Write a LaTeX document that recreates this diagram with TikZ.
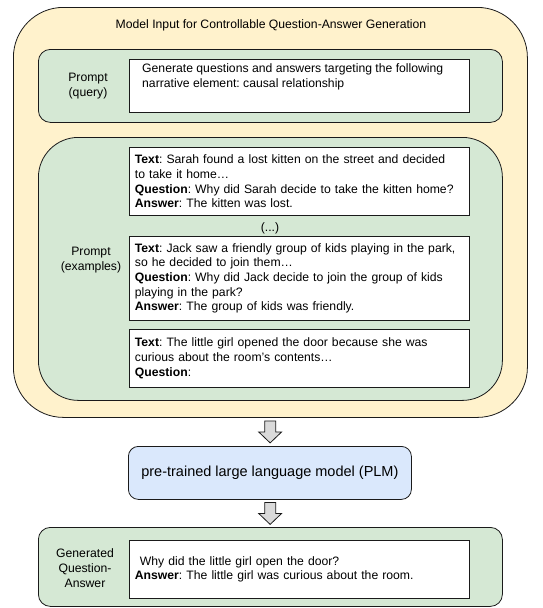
\documentclass[tikz,border=0pt]{standalone}
\usepackage{fontspec}
\setmainfont{Liberation Sans}
\usetikzlibrary{calc}
\definecolor{ylw}{HTML}{FFF2CC}
\definecolor{grn}{HTML}{D5E8D4}
\definecolor{blu}{HTML}{DAE8FC}
\definecolor{arrfill}{HTML}{DADADA}
\definecolor{edge}{HTML}{1A1A1A}
\tikzset{
  base/.style={draw=edge, line width=0.8pt, anchor=north west, inner sep=0pt},
  outerbox/.style={base, fill=ylw, rounded corners=50pt},
  greenbox/.style={base, fill=grn, rounded corners=12pt, minimum width=464pt},
  bigbox/.style={base, fill=grn, rounded corners=40pt, minimum width=464pt},
  whitebox/.style={base, fill=white, minimum width=340pt, text width=329pt, align=left, inner xsep=5.5pt},
  plmbox/.style={base, fill=blu, rounded corners=10pt},
  lbl/.style={align=center, inner sep=0pt},
  blockarrow/.style={draw=edge, line width=0.8pt, fill=arrfill, line join=miter}
}
\begin{document}
\frenchspacing
\begin{tikzpicture}[x=1pt, y=-1pt, font=\fontsize{12.2}{14.7}\selectfont]
\useasboundingbox (0,0) rectangle (542,608);

% outer input box
\node[outerbox, minimum width=514pt, minimum height=410pt] (outer) at (13,7) {};
\node[lbl] (title) at (271,25) {Model Input for Controllable Question-Answer Generation};

% prompt (query)
\node[greenbox, minimum height=73pt] (qgreen) at (38,49) {};
\node[lbl] (qlabel) at (88,86) {Prompt\\(query)};
\node[base, fill=white, minimum width=340pt, minimum height=53pt] (qbox) at (129,59) {};
\node[anchor=north west, inner sep=0pt, align=left] (qtext) at (142,63.5)
  {Generate questions and answers targeting the following\\narrative element: causal relationship};

% prompt (examples)
\node[bigbox, minimum height=263pt] (egreen) at (38,137) {};
\node[lbl] (elabel) at (91,260) {Prompt\\(examples)};
\node[whitebox, minimum height=68pt] (ex1) at (129,147)
  {\textbf{Text}: Sarah found a lost kitten on the street and decided\\
   to take it home…\\
   \textbf{Question}: Why did Sarah decide to take the kitten home?\\
   \textbf{Answer}: The kitten was lost.};
\node[lbl] (dots) at (270,228) {(...)};
\node[whitebox, minimum height=84pt] (ex2) at (129,236)
  {\textbf{Text}: Jack saw a friendly group of kids playing in the park,\\
   so he decided to join them…\\
   \textbf{Question}: Why did Jack decide to join the group of kids\\
   playing in the park?\\
   \textbf{Answer}: The group of kids was friendly.};
\node[whitebox, minimum height=58pt] (ex3) at (129,329)
  {\textbf{Text}: The little girl opened the door because she was\\
   curious about the room’s contents…\\
   \textbf{Question}:};

% PLM
\node[plmbox, minimum width=283pt, minimum height=53pt] (plm) at (128,446) {};
\node[lbl, font=\fontsize{14.5}{17}\selectfont] (plmtext) at (plm.center) {pre-trained large language model (PLM)};

% generated output
\node[greenbox, minimum height=79pt] (ogreen) at (38,527) {};
\node[lbl] (olabel) at (85,568) {Generated\\Question-\\Answer};
\node[whitebox, minimum height=58pt] (obox) at (129,540)
  {\hspace{5pt}Why did the little girl open the door?\\
   \textbf{Answer}: The little girl was curious about the room.};

% block arrows
\coordinate (a1) at ($(outer.south)!0.5!(plm.north) + (0,-11)$);
\coordinate (a2) at ($(plm.south)!0.5!(ogreen.north) + (0,-11)$);
\foreach \a in {a1,a2}{
  \draw[blockarrow] (\a) ++(-5.5,0) -- ++(11,0) -- ++(0,11) -- ++(6,0)
     -- ++(-11.5,11) -- ++(-11.5,-11) -- ++(6,0) -- cycle;
}
\end{tikzpicture}
\end{document}
